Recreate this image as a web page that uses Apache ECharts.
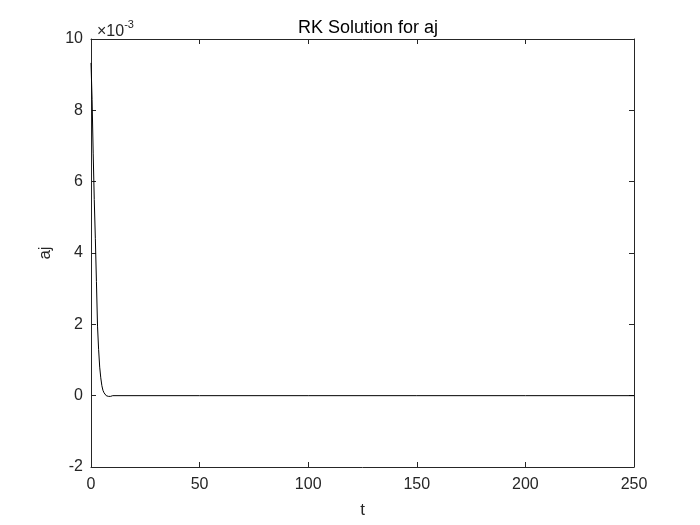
<!DOCTYPE html>
<html>
<head>
<meta charset="utf-8">
<title>RK Solution for aj</title>
<script src="https://cdn.jsdelivr.net/npm/echarts@6/dist/echarts.min.js"></script>
<style>
  html, body { margin: 0; padding: 0; background: #fff; }
  #chart { width: 700px; height: 525px; }
</style>
</head>
<body>
<div id="chart"></div>
<script>
  var tValues = [0, 0.5, 1, 1.5, 2, 2.5, 3, 3.5, 4, 4.5, 5, 5.5, 6, 7, 8, 9, 10, 50, 100, 150, 200, 250];
  var ajValues = [0.00933, 0.0083, 0.0068, 0.0055, 0.0044, 0.0032, 0.00195, 0.0013, 0.0008, 0.0005,
    0.00028, 0.00015, 0.00008, 0.0, -0.00002, -0.00002, 0, 0, 0, 0, 0, 0];
  var xTicks = [0, 50, 100, 150, 200, 250];
  var yTicks = [-2, 0, 2, 4, 6, 8, 10];

  var axisColor = '#262626';
  var font = 'Liberation Sans, Arial, Helvetica, sans-serif';

  var points = tValues.map(function (t, i) { return [t, ajValues[i]]; });

  var myChart = echarts.init(document.getElementById('chart'));

  var baseX = {
    type: 'value',
    min: xTicks[0],
    max: xTicks[xTicks.length - 1],
    interval: xTicks[1] - xTicks[0],
    axisLine: { onZero: false, lineStyle: { color: axisColor, width: 1 } },
    axisTick: { inside: true, length: 5, lineStyle: { color: axisColor } },
    splitLine: { show: false }
  };
  var baseY = {
    type: 'value',
    min: yTicks[0] / 1000,
    max: yTicks[yTicks.length - 1] / 1000,
    interval: (yTicks[1] - yTicks[0]) / 1000,
    axisLine: { onZero: false, lineStyle: { color: axisColor, width: 1 } },
    axisTick: { inside: true, length: 5, lineStyle: { color: axisColor } },
    splitLine: { show: false }
  };

  var option = {
    backgroundColor: '#fff',
    animation: false,
    title: [{
      text: 'RK Solution for aj',
      left: 363,
      top: 14,
      textAlign: 'center',
      textStyle: { color: '#000', fontFamily: font, fontSize: 18, fontWeight: 'normal' }
    }, {
      text: '{a|×10}{b|-3}',
      left: 92,
      top: 13,
      textStyle: {
        fontWeight: 'normal',
        rich: {
          a: { color: axisColor, fontFamily: font, fontSize: 16, fontWeight: 'normal', padding: [6, 0, 0, 0] },
          b: { color: axisColor, fontFamily: font, fontSize: 11, fontWeight: 'normal', padding: [0, 0, 8, 0] }
        }
      }
    }],
    grid: { left: 91, right: 66, top: 39, bottom: 58, containLabel: false },
    xAxis: [
      Object.assign({}, baseX, {
        position: 'bottom',
        name: 't',
        nameLocation: 'middle',
        nameGap: 35,
        nameTextStyle: { color: axisColor, fontFamily: font, fontSize: 17 },
        axisLabel: { color: axisColor, fontFamily: font, fontSize: 16, margin: 10 }
      }),
      Object.assign({}, baseX, { position: 'top', axisLabel: { show: false } })
    ],
    yAxis: [
      Object.assign({}, baseY, {
        position: 'left',
        name: 'aj',
        nameLocation: 'middle',
        nameGap: 27,
        nameTextStyle: { color: axisColor, fontFamily: font, fontSize: 17 },
        axisLabel: {
          color: axisColor, fontFamily: font, fontSize: 16, margin: 8,
          formatter: function (v) { return String(Math.round(v * 1000)); }
        }
      }),
      Object.assign({}, baseY, { position: 'right', axisLabel: { show: false } })
    ],
    series: [{
      type: 'line',
      data: points,
      xAxisIndex: 0,
      yAxisIndex: 0,
      showSymbol: false,
      symbol: 'none',
      lineStyle: { color: '#000', width: 1 }
    }]
  };

  myChart.setOption(option);
</script>
</body>
</html>
